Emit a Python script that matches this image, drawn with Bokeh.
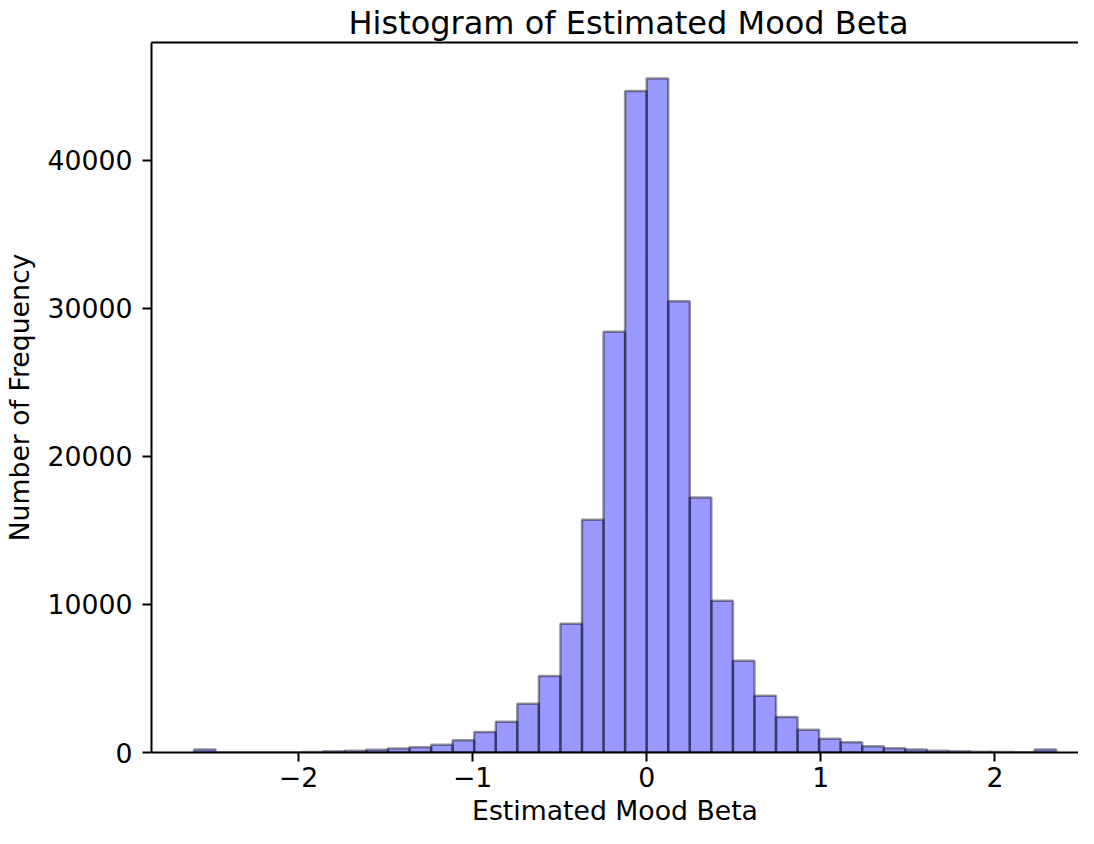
import numpy as np
from bokeh.plotting import figure
from bokeh.models import Range1d, FixedTicker, LinearAxis
from bokeh.embed import file_html
from bokeh.resources import INLINE

# Histogram data
bin_min = -2.600
bin_max = 2.352
n_bins = 40
counts = [200, 0, 0, 0, 0, 40, 90, 120, 180, 270,
          360, 520, 830, 1380, 2070, 3300, 5170, 8700, 15720, 28420,
          44680, 45520, 30470, 17220, 10250, 6200, 3830, 2390, 1540, 930,
          700, 430, 280, 210, 120, 90, 50, 30, 20, 210]
x_ticks = [-2, -1, 0, 1, 2]
x_tick_labels = ["\u22122", "\u22121", "0", "1", "2"]
y_ticks = [0, 10000, 20000, 30000, 40000]
y_tick_labels = ["0", "10000", "20000", "30000", "40000"]

edges = np.linspace(bin_min, bin_max, n_bins + 1)

FONT = "DejaVu Sans"

p = figure(width=1078, height=828, output_backend="svg", toolbar_location=None,
           title="Histogram of Estimated Mood Beta",
           x_range=Range1d(-2.844, 2.480), y_range=Range1d(0, 47950),
           min_border_left=142, min_border_top=38, min_border_right=0,
           min_border_bottom=76)

p.quad(left=edges[:-1], right=edges[1:], bottom=0, top=counts,
       fill_color="blue", fill_alpha=0.4,
       line_color="black", line_alpha=0.4, line_width=2.5)

p.outline_line_color = None
p.grid.visible = False
p.background_fill_color = "white"
p.border_fill_color = "white"

p.title.text_font = FONT
p.title.text_font_size = "32px"
p.title.text_font_style = "normal"
p.title.align = "left"
p.title.offset = 197
p.title.text_color = "black"
p.title.standoff = 2

for ax in [p.xaxis[0], p.yaxis[0]]:
    ax.axis_line_width = 2
    ax.axis_line_color = "black"
    ax.major_tick_line_width = 2
    ax.major_tick_line_color = "black"
    ax.major_tick_out = 9
    ax.major_tick_in = 0
    ax.minor_tick_out = 0
    ax.minor_tick_in = 0
    ax.major_label_text_font = FONT
    ax.major_label_text_font_size = "26.7px"
    ax.major_label_text_color = "black"
    ax.axis_label_text_font = FONT
    ax.axis_label_text_font_size = "26.7px"
    ax.axis_label_text_font_style = "normal"
    ax.axis_label_text_color = "black"

p.xaxis[0].ticker = FixedTicker(ticks=x_ticks)
p.xaxis[0].major_label_overrides = dict(zip(x_ticks, x_tick_labels))
p.xaxis[0].axis_label = "Estimated Mood Beta"
p.xaxis[0].major_label_standoff = 5
p.xaxis[0].axis_label_standoff = 5

p.yaxis[0].ticker = FixedTicker(ticks=y_ticks)
p.yaxis[0].major_label_overrides = dict(zip(y_ticks, y_tick_labels))
p.yaxis[0].axis_label = "Number of Frequency"
p.yaxis[0].major_label_standoff = 10
p.yaxis[0].axis_label_standoff = 10

# top spine
top = LinearAxis(ticker=FixedTicker(ticks=[]), axis_line_width=2,
                 axis_line_color="black", major_tick_out=0, major_tick_in=0,
                 minor_tick_out=0, minor_tick_in=0,
                 major_label_text_font_size="0px")
p.add_layout(top, "above")

open("out.html", "w").write(file_html(p, INLINE))
